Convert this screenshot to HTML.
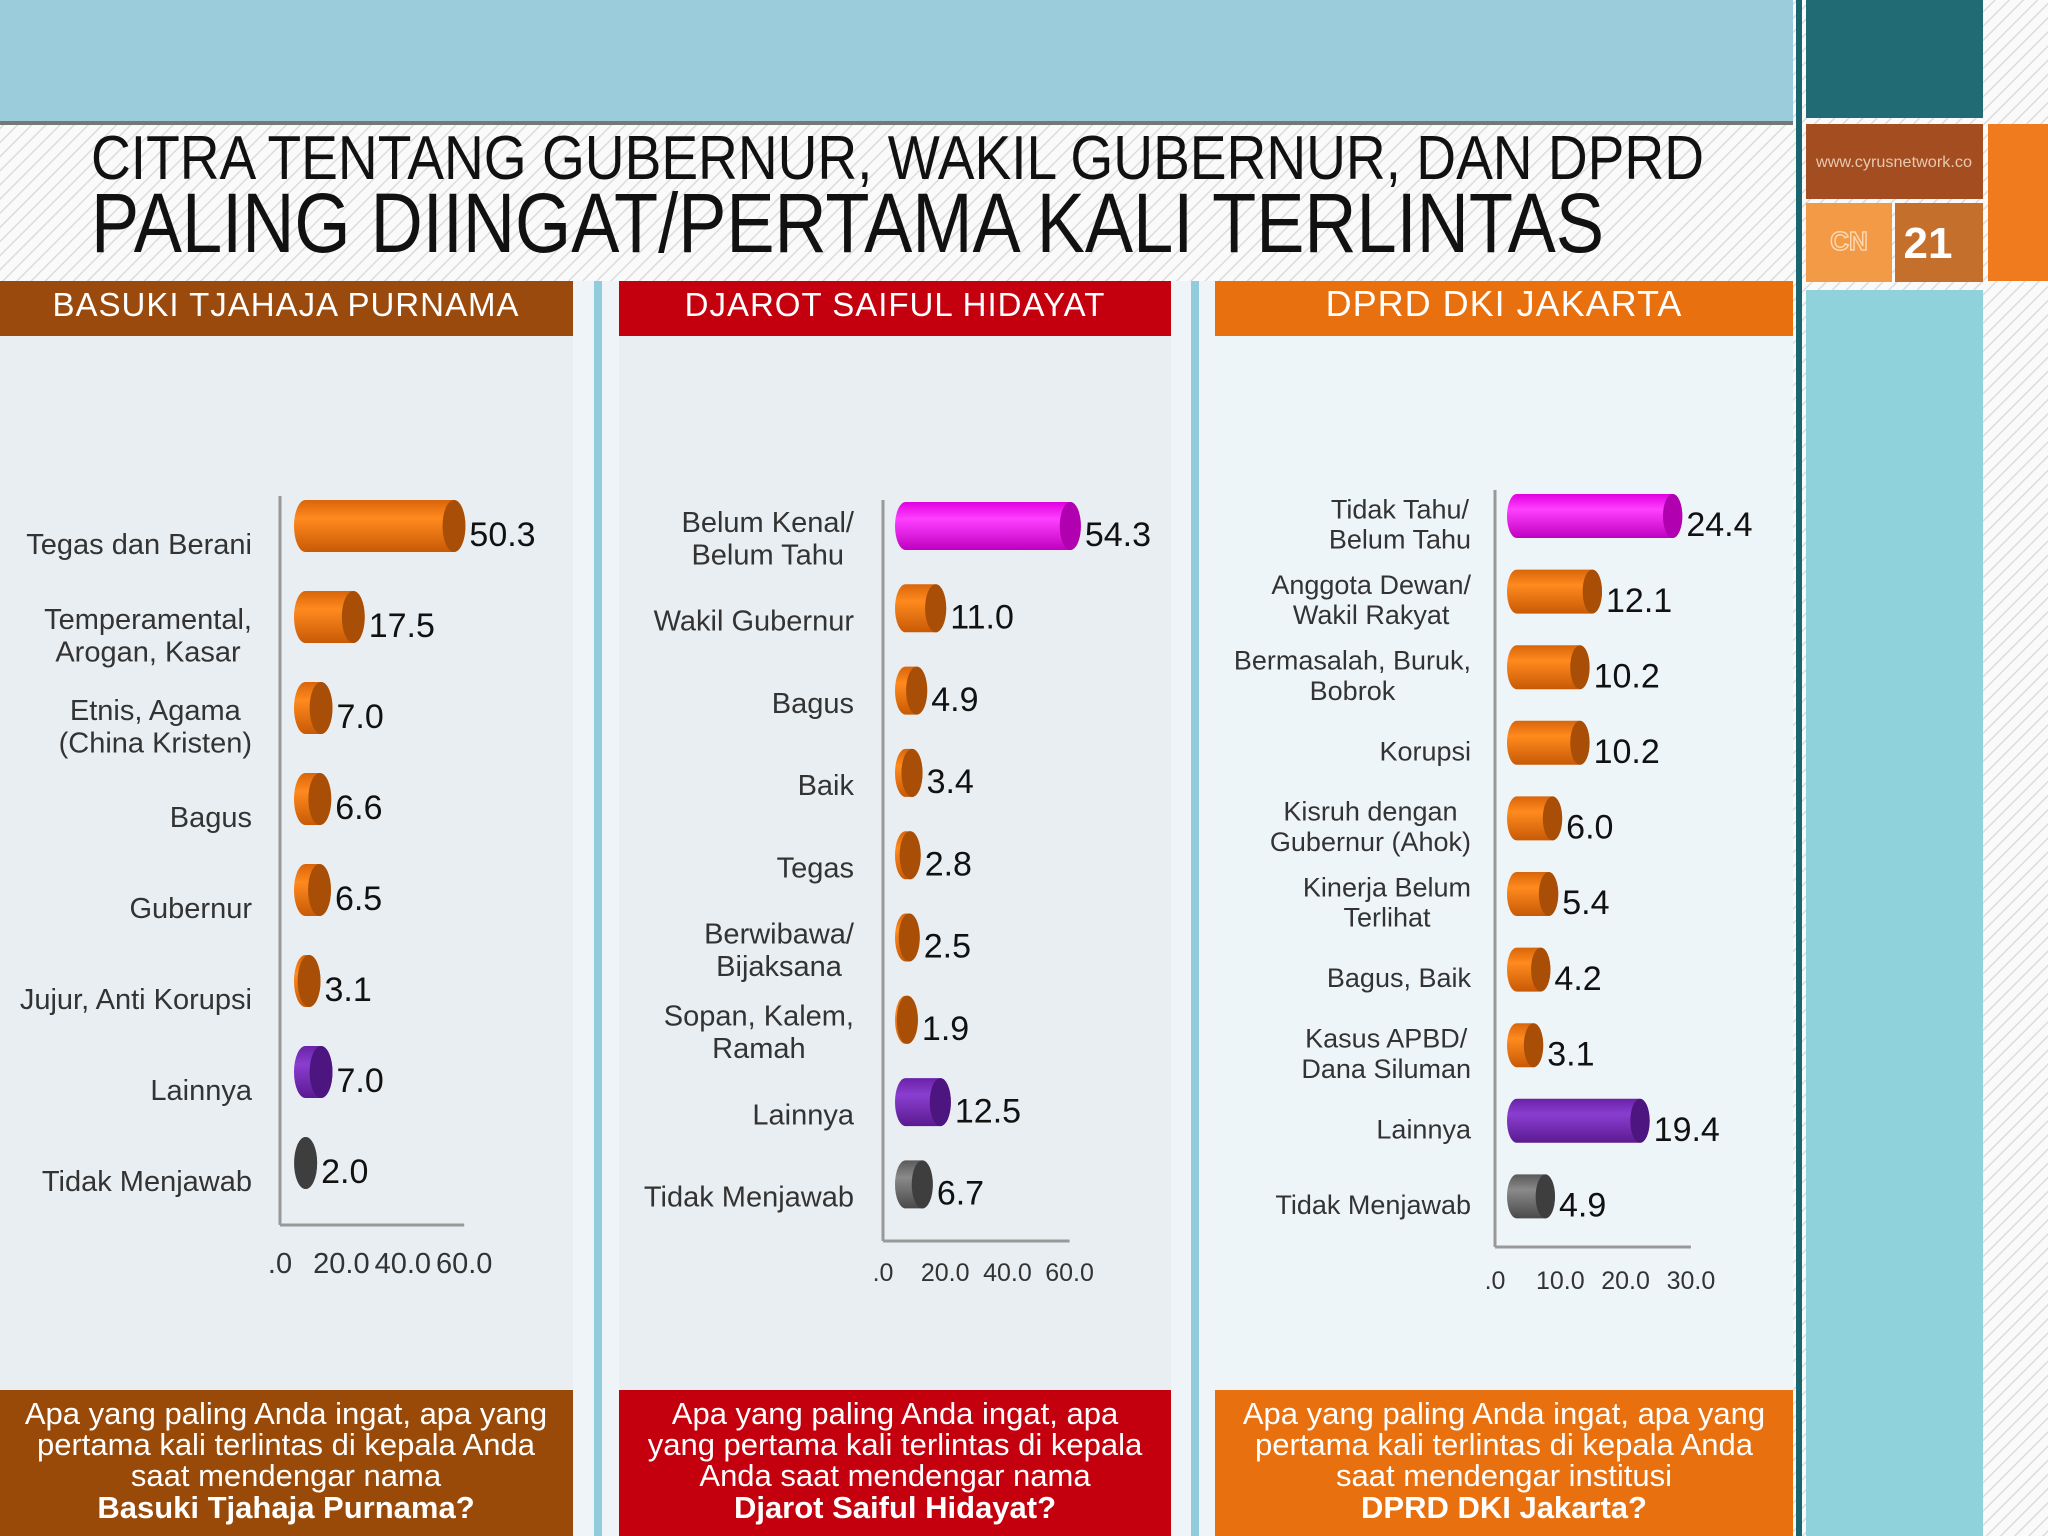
<!DOCTYPE html>
<html><head><meta charset="utf-8"><style>
html,body{margin:0;padding:0;width:2048px;height:1536px;overflow:hidden;background:#f3f3f3}
svg{display:block;font-family:"Liberation Sans","DejaVu Sans",sans-serif}
</style></head><body>
<svg id="s" width="2048" height="1536" viewBox="0 0 2048 1536">
<defs>
<pattern id="hatch" width="10" height="10" patternUnits="userSpaceOnUse" patternTransform="rotate(-45)">
<rect width="10" height="10" fill="#fafafa"/><line x1="0" y1="0" x2="10" y2="0" stroke="#dcdcdc" stroke-width="3"/></pattern>
<linearGradient id="gOr" x1="0" y1="0" x2="0" y2="1"><stop offset="0" stop-color="#d9650a"/><stop offset="0.35" stop-color="#ff8a1e"/><stop offset="1" stop-color="#c85a06"/></linearGradient>
<linearGradient id="gMa" x1="0" y1="0" x2="0" y2="1"><stop offset="0" stop-color="#e000e0"/><stop offset="0.35" stop-color="#ff40ff"/><stop offset="1" stop-color="#c000c0"/></linearGradient>
<linearGradient id="gPu" x1="0" y1="0" x2="0" y2="1"><stop offset="0" stop-color="#6a22a8"/><stop offset="0.35" stop-color="#8a3ed0"/><stop offset="1" stop-color="#5a1a90"/></linearGradient>
<linearGradient id="gGr" x1="0" y1="0" x2="0" y2="1"><stop offset="0" stop-color="#5a5a5a"/><stop offset="0.35" stop-color="#8a8a8a"/><stop offset="1" stop-color="#4a4a4a"/></linearGradient>
</defs>
<rect width="2048" height="1536" fill="url(#hatch)"/>
<rect x="0" y="0" width="1793" height="121" fill="#9accdc"/>
<rect x="0" y="121" width="1793" height="4" fill="#777"/>
<rect x="1796" y="0" width="6" height="1536" fill="#1a6670"/>
<rect x="1806" y="0" width="177" height="118" fill="#216c74"/>
<rect x="1806" y="124" width="177" height="75" fill="#a34d20"/>
<text x="1894" y="167" font-size="16" fill="#e8c8b0" text-anchor="middle" textLength="156" lengthAdjust="spacingAndGlyphs">www.cyrusnetwork.co</text>
<rect x="1806" y="203" width="86" height="79" fill="#f29a46"/>
<text x="1849" y="250" font-size="26" fill="none" stroke="#fcd7b0" stroke-width="1.5" text-anchor="middle" font-weight="bold">CN</text>
<rect x="1895" y="203" width="88" height="79" fill="#c4702c"/>
<text x="1928" y="258" font-size="44" font-weight="bold" fill="#fff" text-anchor="middle">21</text>
<rect x="1988" y="124" width="60" height="157" fill="#f07a1e"/>
<rect x="1806" y="290" width="177" height="1246" fill="#8fd2dc"/>

<text x="91" y="179" font-size="62" fill="#111" textLength="1613" lengthAdjust="spacingAndGlyphs">CITRA TENTANG GUBERNUR, WAKIL GUBERNUR, DAN DPRD</text>
<text x="91" y="252" font-size="84" fill="#111" textLength="1513" lengthAdjust="spacingAndGlyphs">PALING DIINGAT/PERTAMA KALI TERLINTAS</text>

<rect x="0" y="281" width="1793" height="1255" fill="#eef4f7"/>
<rect x="0" y="336" width="573" height="1200" fill="#e8eef1"/>
<rect x="619" y="336" width="552" height="1200" fill="#e8eef1"/>
<rect x="1215" y="336" width="578" height="1200" fill="#eef5f8"/>
<rect x="594" y="281" width="8" height="1255" fill="#92cbdc"/>
<rect x="1191" y="281" width="8" height="1255" fill="#92cbdc"/>

<rect x="0" y="281" width="573" height="55" fill="#9a4a0c"/>
<text x="286" y="316" font-size="33" fill="#fff" text-anchor="middle" letter-spacing="1">BASUKI TJAHAJA PURNAMA</text>
<rect x="619" y="281" width="552" height="55" fill="#c4000e"/>
<text x="895" y="316" font-size="33" fill="#fff" text-anchor="middle" letter-spacing="1">DJAROT SAIFUL HIDAYAT</text>
<rect x="1215" y="281" width="578" height="55" fill="#e8700f"/>
<text x="1504" y="316" font-size="36" fill="#fff" text-anchor="middle" letter-spacing="1">DPRD DKI JAKARTA</text>

<rect x="0" y="1390" width="573" height="146" fill="#9a4a08"/>
<rect x="619" y="1390" width="552" height="146" fill="#c4000e"/>
<rect x="1215" y="1390" width="578" height="146" fill="#e8700f"/>
<g id="charts"></g>
</svg>
<script>
// Chart 1: Basuki
const c1Labels=[["Tegas dan Berani"],["Temperamental,","Arogan, Kasar"],["Etnis, Agama","(China Kristen)"],["Bagus"],["Gubernur"],["Jujur, Anti Korupsi"],["Lainnya"],["Tidak Menjawab"]];
const c1Values=[50.3,17.5,7.0,6.6,6.5,3.1,7.0,2.0];
const c1Colors=["o","o","o","o","o","o","p","g"];
const c1Ticks=[0,20,40,60];
const c1TickLabels=[".0","20.0","40.0","60.0"];
// Chart 2: Djarot
const c2Labels=[["Belum Kenal/","Belum Tahu"],["Wakil Gubernur"],["Bagus"],["Baik"],["Tegas"],["Berwibawa/","Bijaksana"],["Sopan, Kalem,","Ramah"],["Lainnya"],["Tidak Menjawab"]];
const c2Values=[54.3,11.0,4.9,3.4,2.8,2.5,1.9,12.5,6.7];
const c2Colors=["m","o","o","o","o","o","o","p","g"];
const c2Ticks=[0,20,40,60];
const c2TickLabels=[".0","20.0","40.0","60.0"];
// Chart 3: DPRD
const c3Labels=[["Tidak Tahu/","Belum Tahu"],["Anggota Dewan/","Wakil Rakyat"],["Bermasalah, Buruk,","Bobrok"],["Korupsi"],["Kisruh dengan","Gubernur (Ahok)"],["Kinerja Belum","Terlihat"],["Bagus, Baik"],["Kasus APBD/","Dana Siluman"],["Lainnya"],["Tidak Menjawab"]];
const c3Values=[24.4,12.1,10.2,10.2,6.0,5.4,4.2,3.1,19.4,4.9];
const c3Colors=["m","o","o","o","o","o","o","o","p","g"];
const c3Ticks=[0,10,20,30];
const c3TickLabels=[".0","10.0","20.0","30.0"];

const NS="http://www.w3.org/2000/svg";
const root=document.getElementById('charts');
const fills={o:["url(#gOr)","#a94e06"],m:["url(#gMa)","#b000b0"],p:["url(#gPu)","#4c1580"],g:["url(#gGr)","#3e3e3e"]};
function mk(tag,attrs,parent){const e=document.createElementNS(NS,tag);for(const k in attrs)e.setAttribute(k,attrs[k]);(parent||root).appendChild(e);return e;}

function chart(id,labels,values,colors,ticks,tickLabels,cfg){
  const g=mk('g',{});
  
  
  const x=v=>cfg.ax+cfg.ppu*v;
  const y=i=>cfg.y0+cfg.step*i;
  const ya=mk('line',{x1:cfg.ax,y1:cfg.top,x2:cfg.ax,y2:cfg.bot,stroke:"#999","stroke-width":3},g);
  
  
  const xa=mk('line',{x1:cfg.ax,y1:cfg.bot,x2:x(ticks[ticks.length-1]),y2:cfg.bot,stroke:"#999","stroke-width":3},g);
  
  
  ticks.forEach((t,i)=>{
    const tl=mk('text',{x:x(t),y:cfg.tickY,"font-size":cfg.tickFs,fill:"#333","text-anchor":"middle"},g);
    tl.textContent=tickLabels[i];
    
    
  });
  values.forEach((v,i)=>{
    const cy=y(i), h=cfg.bh, rx=h*0.22, x0=cfg.ax+cfg.off, w=cfg.cap+cfg.ppu*v;
    const x1=x0+w-rx;
    const f=fills[colors[i]];
    const body=mk('path',{d:`M${x0+rx},${cy-h/2} L${x1},${cy-h/2} A${rx},${h/2} 0 0 1 ${x1},${cy+h/2} L${x0+rx},${cy+h/2} A${rx},${h/2} 0 0 1 ${x0+rx},${cy-h/2} Z`,fill:f[0]},g);
    
    
    const cap=mk('ellipse',{cx:x1,cy:cy,rx:rx,ry:h/2,fill:f[1]},g);
    
    
    const vl=mk('text',{x:x0+w+4,y:cy+cfg.valFs*0.36+8,"font-size":cfg.valFs,fill:"#111"},g);
    vl.textContent=v.toFixed(1);
    
    
    const L=labels[i], lh=cfg.labFs*1.12;
    const startY=cy+cfg.labOff-(L.length-1)*lh/2+cfg.labFs*0.35;
    const made=[];
    L.forEach((ln,j)=>{
      const t=mk('text',{x:cfg.labX,y:startY+j*lh,"font-size":cfg.labFs,fill:"#333","text-anchor":L.length>1?"middle":"end"},g);
      t.textContent=ln;
      
      
      made.push(t);
    });
    if(L.length>1){
      let mw=0;made.forEach(t=>{mw=Math.max(mw,t.getComputedTextLength());});
      made.forEach(t=>t.setAttribute('x',cfg.labX-mw/2));
    }
  });
}
chart('chart-basuki',c1Labels,c1Values,c1Colors,c1Ticks,c1TickLabels,{ax:280,ppu:3.07,off:14,cap:17,top:496,bot:1225,y0:526,step:91,bh:52,tickY:1273,tickFs:29,valFs:34,labFs:29,labX:252,labOff:18});
chart('chart-djarot',c2Labels,c2Values,c2Colors,c2Ticks,c2TickLabels,{ax:883,ppu:3.11,off:12,cap:17,top:500,bot:1241,y0:526,step:82.3,bh:48,tickY:1281,tickFs:25,valFs:34,labFs:29,labX:854,labOff:12});
chart('chart-dprd',c3Labels,c3Values,c3Colors,c3Ticks,c3TickLabels,{ax:1495,ppu:6.53,off:12,cap:16,top:490,bot:1247,y0:516,step:75.6,bh:44,tickY:1289,tickFs:25,valFs:34,labFs:27,labX:1471,labOff:8});

// question boxes
const qs=[[286,["Apa yang paling Anda ingat, apa yang","pertama kali terlintas di kepala Anda","saat mendengar nama"],"Basuki Tjahaja Purnama?"],
[895,["Apa yang paling Anda ingat, apa","yang pertama kali terlintas di kepala","Anda saat mendengar nama"],"Djarot Saiful Hidayat?"],
[1504,["Apa yang paling Anda ingat, apa yang","pertama kali terlintas di kepala Anda","saat mendengar institusi"],"DPRD DKI Jakarta?"]];
qs.forEach(q=>{
  const t=mk('text',{x:q[0],y:1424,"font-size":31,fill:"#fff","text-anchor":"middle"});
  
  
  q[1].forEach((ln,j)=>{const s=mk('tspan',{x:q[0],dy:j?31:0},t);s.textContent=ln;});
  const b=mk('tspan',{x:q[0],dy:32,"font-weight":"bold"},t);b.textContent=q[2];
});
</script>
</body></html>
